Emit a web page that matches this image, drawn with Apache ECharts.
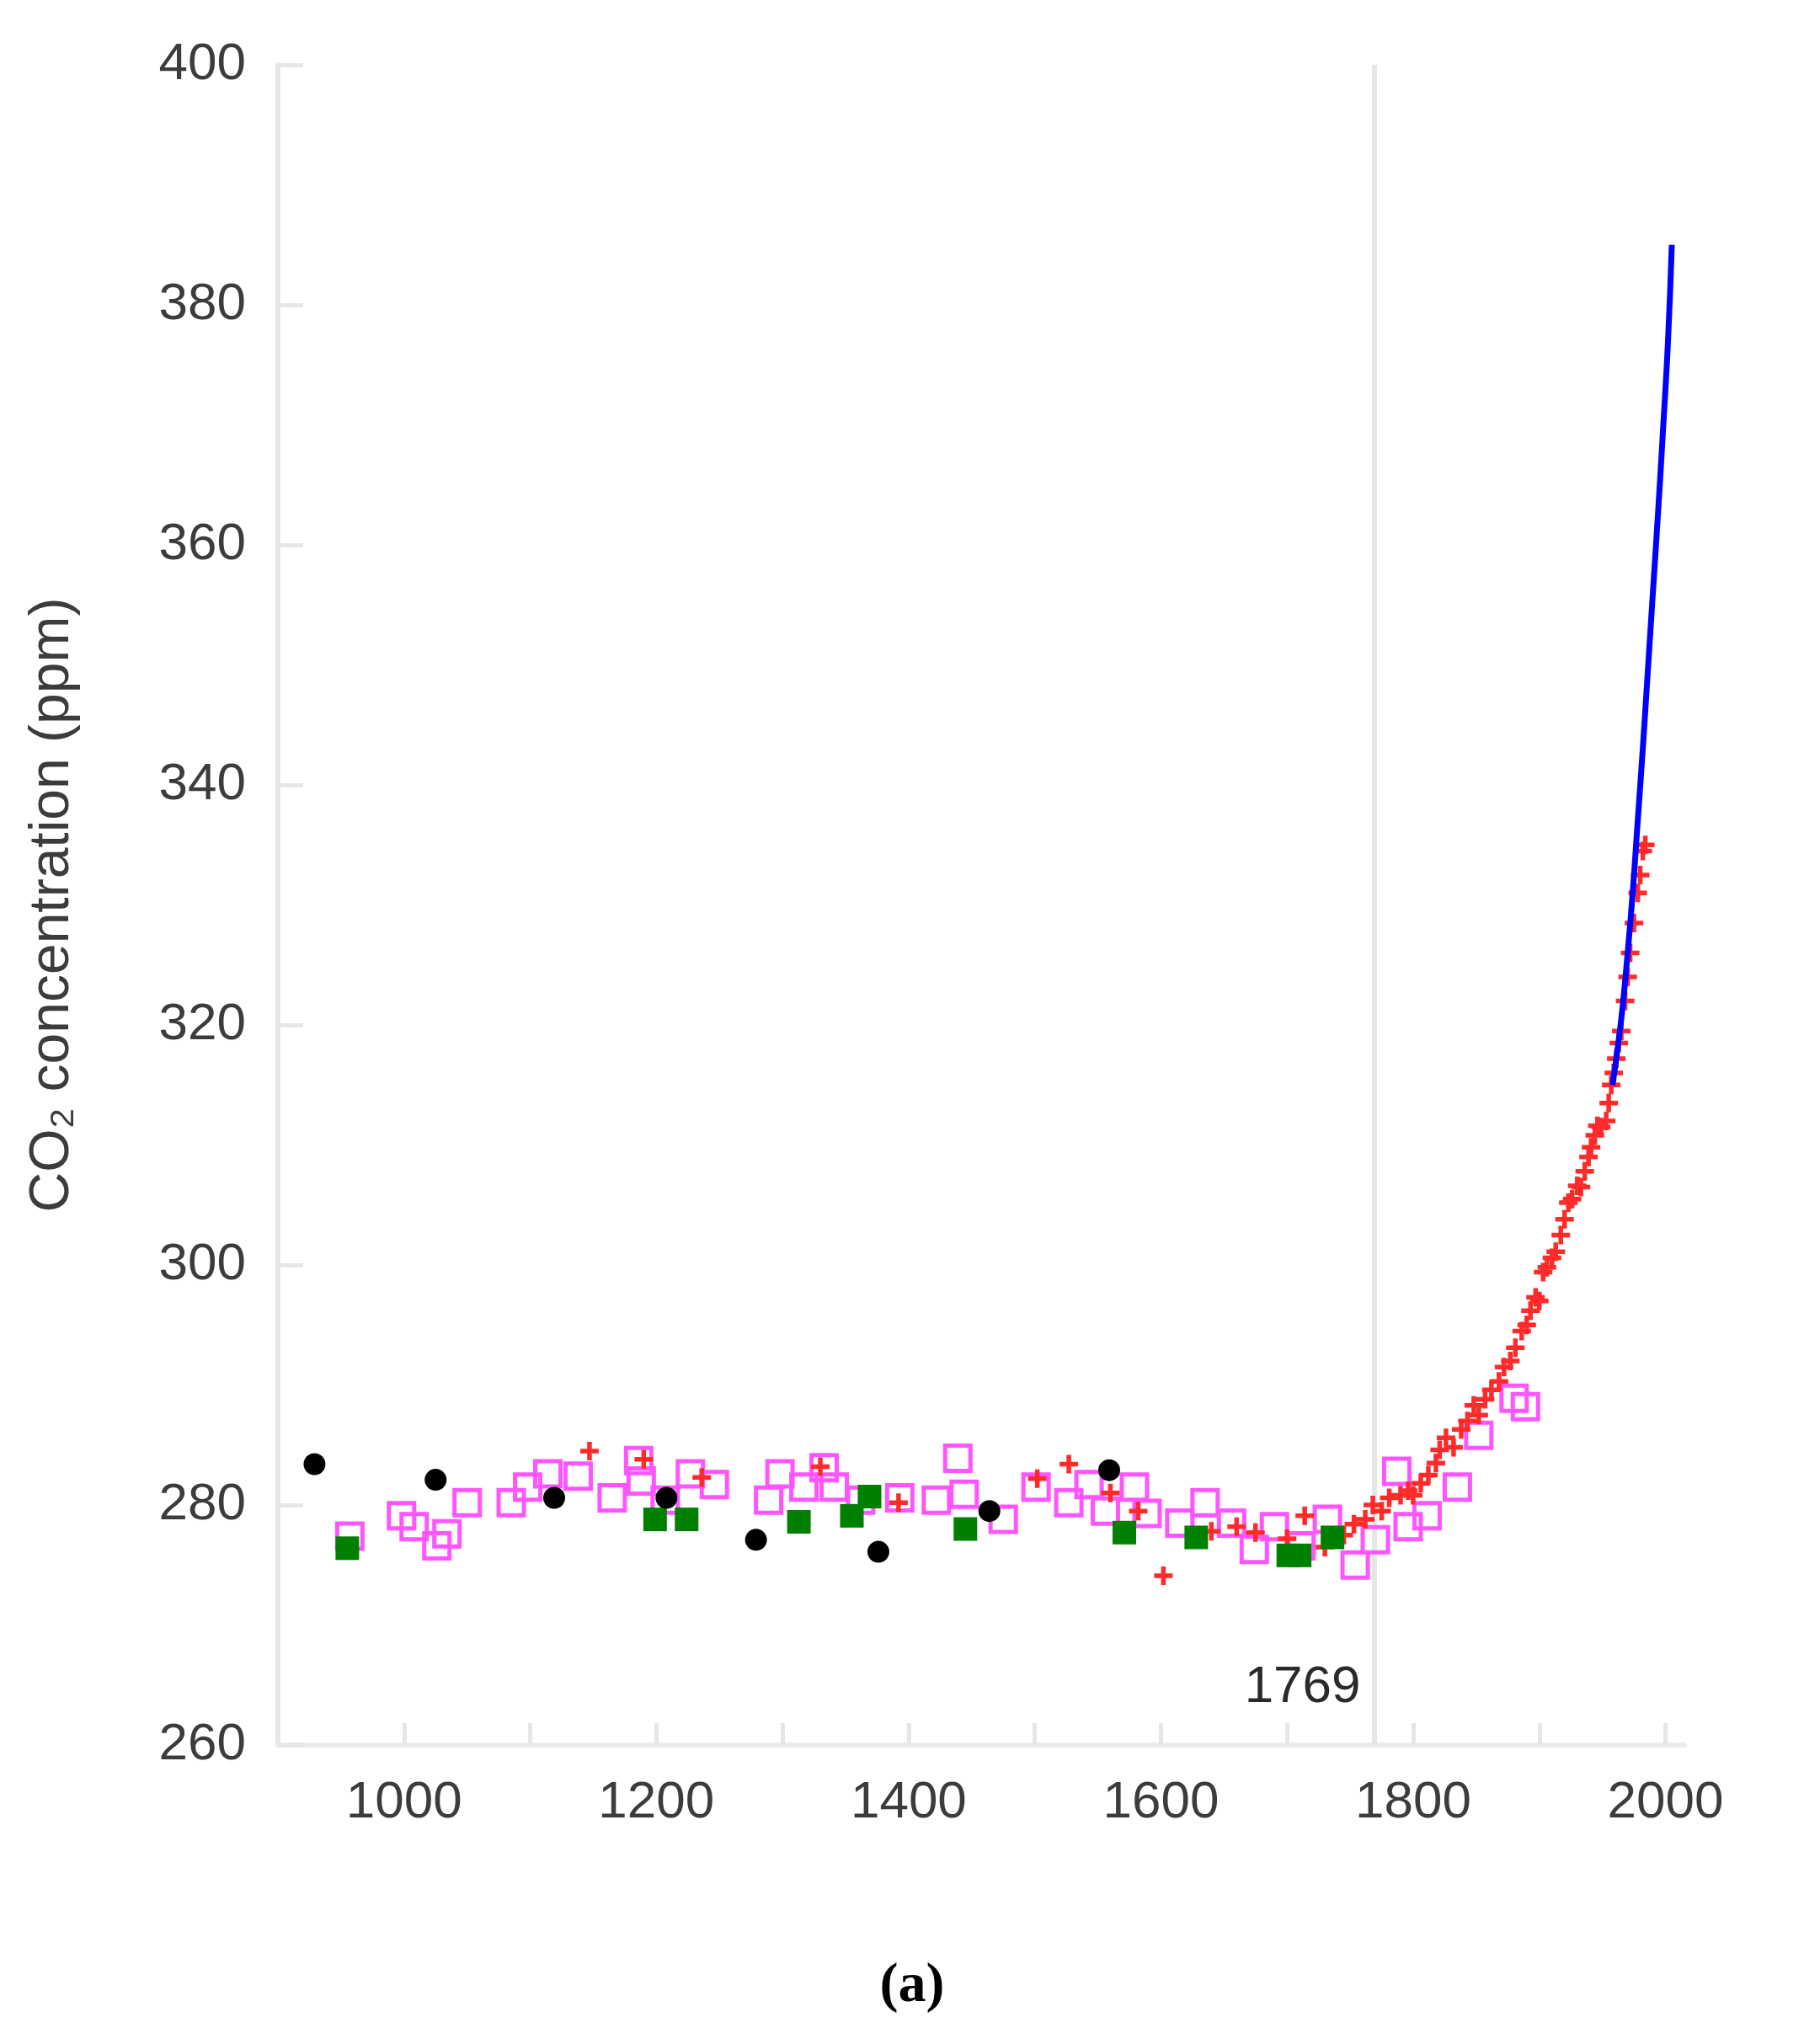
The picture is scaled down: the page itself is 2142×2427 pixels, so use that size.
<!DOCTYPE html>
<html>
<head>
<meta charset="utf-8">
<style>
html,body{margin:0;padding:0;background:#fff;}
#chart{width:2142px;height:2427px;}
</style>
<script src="https://cdn.jsdelivr.net/npm/echarts@6/dist/echarts.min.js"></script>
</head>
<body>
<div id="chart"></div>
<script>
// ---- data (year, CO2 ppm) ----
const xTickValues = [1000, 1100, 1200, 1300, 1400, 1500, 1600, 1700, 1800, 1900, 2000];
const xLabelValues = [1000, 1200, 1400, 1600, 1800, 2000];
const yTickLabels = [260, 280, 300, 320, 340, 360, 380, 400];
const markerYear = 1769;
const markerLabelPpm = 264.8;

const blackCircles = [
  [929, 283.4], [1025, 282.1], [1119, 280.6], [1208, 280.6],
  [1279, 277.1], [1376, 276.1], [1464, 279.5], [1559, 282.9]
];
const greenSquares = [
  [955, 276.4], [1199, 278.8], [1224, 278.8], [1313, 278.6], [1355, 279.1],
  [1369, 280.7], [1445, 278.0], [1571, 277.7], [1628, 277.3], [1701, 275.8],
  [1710, 275.8], [1736, 277.3]
];
const magentaSquares = [
  [957, 277.4], [998, 279.1], [1008, 278.2], [1026, 276.6], [1034, 277.6],
  [1050, 280.2], [1085, 280.2], [1098, 281.5], [1114, 282.6], [1138, 282.4],
  [1165, 280.6], [1186, 283.7], [1188, 282.0], [1207, 280.4], [1227, 282.6],
  [1246, 281.7], [1289, 280.4], [1298, 282.6], [1317, 281.5], [1333, 283.1],
  [1341, 281.5], [1362, 280.4], [1393, 280.6], [1422, 280.4], [1439, 283.9],
  [1444, 280.9], [1475, 278.8], [1501, 281.5], [1527, 280.2], [1543, 281.7],
  [1556, 279.5], [1579, 281.5], [1589, 279.3], [1615, 278.5], [1635, 280.2],
  [1656, 278.5], [1674, 276.3], [1690, 278.2], [1711, 276.6], [1732, 278.8],
  [1754, 275.0], [1770, 277.1], [1787, 282.8], [1796, 278.2], [1811, 279.1],
  [1835, 281.5], [1852, 285.8], [1880, 288.9], [1889, 288.2]
];
const redCrosses = [
  [1147, 284.5], [1190, 283.8], [1236, 282.3], [1330, 283.2], [1392, 280.2],
  [1502, 282.2], [1527, 283.4], [1560, 281.0], [1582, 279.5], [1602, 274.1],
  [1640, 277.8], [1660, 278.2], [1675, 277.7], [1700, 277.2], [1714, 279.1],
  [1730, 276.5], [1745, 277.5], [1753, 278.4], [1762, 278.8], [1768, 280.0],
  [1775, 279.5], [1781, 280.6], [1790, 280.8], [1796, 281.2], [1800, 280.8],
  [1806, 281.8], [1812, 282.5], [1818, 283.5], [1821, 284.6], [1826, 285.6],
  [1832, 284.8], [1838, 286.3], [1843, 287.0], [1848, 288.3], [1852, 287.5],
  [1857, 288.8], [1862, 289.6], [1868, 290.3], [1872, 291.5], [1877, 292.0],
  [1881, 293.1], [1886, 294.5], [1890, 295.0], [1893, 296.2], [1897, 297.3],
  [1900, 297.0], [1903, 299.4], [1906, 299.8], [1910, 300.6], [1913, 301.1],
  [1917, 302.5], [1920, 303.8], [1923, 305.2], [1926, 305.5], [1930, 306.6],
  [1933, 306.5], [1936, 307.8], [1939, 309.0], [1941, 309.8], [1944, 310.8],
  [1946, 311.6], [1949, 311.5], [1953, 312.0], [1955, 313.5], [1957, 315.0],
  [1959, 316.0], [1961, 317.2], [1963, 318.5], [1965, 319.5], [1968, 322.0],
  [1970, 324.0], [1972, 326.0], [1975, 328.5], [1978, 331.0], [1980, 332.5],
  [1982, 334.5], [1984, 335.0]
];
const blueLine = [
  [1958, 315.0], [1962, 318.0], [1966, 321.5], [1970, 326.0], [1974, 331.0],
  [1978, 337.0], [1982, 343.0], [1986, 349.5], [1990, 356.0], [1994, 362.5],
  [1998, 369.5], [2002, 377.0], [2005, 385.0]
];

const textColor = '#3c3c3c';
const axisColor = '#e6e6e6';
const font = 'Liberation Sans';

const chart = echarts.init(document.getElementById('chart'), null, {renderer: 'canvas'});
chart.setOption({
  backgroundColor: '#ffffff',
  animation: false,
  grid: {left: 330, top: 77, width: 1670, height: 1995, containLabel: false},
  xAxis: {
    type: 'value', min: 900, max: 2015, interval: 100,
    axisLine: {show: true, onZero: false, lineStyle: {color: '#ececec', width: 6}},
    axisTick: {show: true, inside: true, length: 26, customValues: xTickValues,
      lineStyle: {color: axisColor, width: 5}},
    axisLabel: {show: true, customValues: xLabelValues, margin: 38, fontSize: 62,
      fontFamily: font, color: textColor,
      formatter: v => (v % 200 === 0 && v >= 1000 && v <= 2000) ? String(v) : ''},
    splitLine: {show: false}
  },
  yAxis: {
    type: 'value', min: 260, max: 400, interval: 20,
    name: 'CO₂ concentration (ppm)', nameLocation: 'middle', nameGap: 234,
    nameTextStyle: {fontSize: 66, fontFamily: font, color: textColor},
    axisLine: {show: true, onZero: false, lineStyle: {color: axisColor, width: 6}},
    axisTick: {show: true, inside: true, length: 30, lineStyle: {color: axisColor, width: 5}},
    axisLabel: {show: true, margin: 38, fontSize: 62, fontFamily: font, color: textColor,
      formatter: v => yTickLabels.includes(v) ? String(v) : ''},
    splitLine: {show: false}
  },
  graphic: [{
    type: 'text', x: 1083, y: 2359, z: 10,
    style: {text: '(a)', textAlign: 'center', textVerticalAlign: 'middle',
      font: 'bold 66px "Liberation Serif"', fill: '#000'}
  }],
  series: [
    {
      type: 'scatter', name: 'marker', z: 1,
      data: [[markerYear, markerLabelPpm]], symbolSize: 0, silent: true,
      itemStyle: {opacity: 1},
      label: {show: true, position: 'left', distance: 16, formatter: String(markerYear),
        fontSize: 62, fontFamily: font, color: '#2a2a2a', opacity: 1},
      markLine: {
        silent: true, symbol: 'none', z: 1,
        lineStyle: {color: axisColor, width: 6, type: 'solid', opacity: 1},
        label: {show: false},
        data: [{xAxis: markerYear}]
      }
    },
    {
      type: 'scatter', name: 'magenta', z: 2, data: magentaSquares,
      symbol: 'rect', symbolSize: 30,
      itemStyle: {color: 'rgba(0,0,0,0)', borderColor: '#ff55ff', borderWidth: 5, opacity: 1}
    },
    {
      type: 'scatter', name: 'red', z: 3, data: redCrosses,
      symbol: 'path://M3,0h2v3h3v2h-3v3h-2v-3h-3v-2h3z', symbolSize: 22,
      itemStyle: {color: '#ff2a2a', opacity: 1}
    },
    {
      type: 'scatter', name: 'green', z: 4, data: greenSquares,
      symbol: 'rect', symbolSize: 28, itemStyle: {color: '#008000', opacity: 1}
    },
    {
      type: 'scatter', name: 'black', z: 5, data: blackCircles,
      symbol: 'circle', symbolSize: 26, itemStyle: {color: '#000000', opacity: 1}
    },
    {
      type: 'line', name: 'blue', z: 6, data: blueLine, showSymbol: false,
      smooth: true, lineStyle: {color: '#0000ff', width: 7, opacity: 1}
    }
  ]
});
</script>
</body>
</html>
